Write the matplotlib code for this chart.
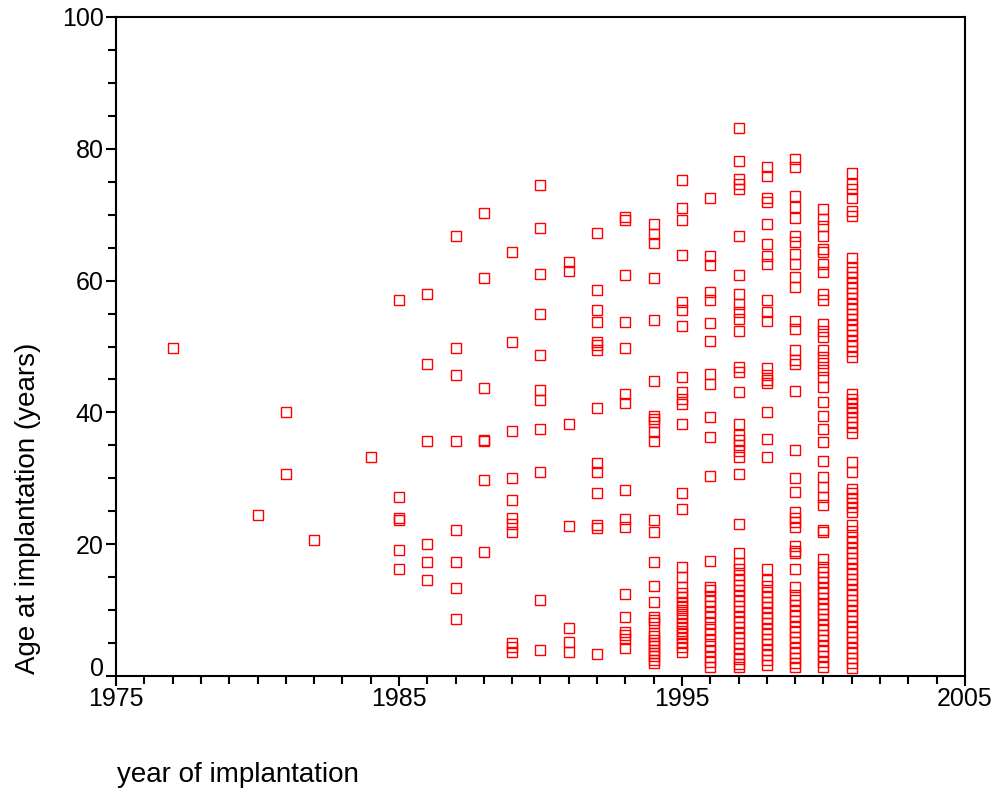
import matplotlib
matplotlib.use('Agg')
import matplotlib.pyplot as plt
from matplotlib.ticker import MultipleLocator, FixedLocator
from matplotlib.transforms import ScaledTranslation

plt.rcParams['font.family'] = ['Liberation Sans', 'DejaVu Sans']

# Edades al implante, una lista por año
age_1977 = [49.8]
age_1980 = [24.4]
age_1981 = [40.1, 30.7]
age_1982 = [20.7]
age_1984 = [33.3]
age_1985 = [57.1, 27.1, 24.0, 23.7, 19.1, 16.2]
age_1986 = [58.0, 47.4, 35.6, 20.1, 17.3, 14.5]
age_1987 = [66.7, 49.8, 45.6, 35.6, 22.1, 17.3, 13.4, 8.6]
age_1988 = [70.3, 60.4, 43.7, 35.8, 35.6, 29.7, 18.8]
age_1989 = [64.4, 50.7, 37.2, 30.0, 26.7, 24.0, 23.1, 21.8, 5.0, 4.4, 3.7]
age_1990 = [74.5, 68.0, 61.0, 55.0, 48.7, 43.4, 41.9, 37.5, 31.0, 11.5, 3.9]
age_1991 = [62.8, 61.5, 38.3, 22.7, 7.3, 5.2, 3.6]
age_1992 = [67.2, 58.6, 55.6, 53.7, 50.7, 50.2, 49.4, 40.6, 32.3, 31.0, 27.7,
            22.9, 22.4, 3.3]
age_1993 = [69.6, 69.2, 60.8, 53.7, 49.8, 42.8, 41.4, 28.3, 23.9, 22.6, 12.5,
            8.9, 6.7, 6.2, 5.6, 4.2]
age_1994 = [68.6, 67.1, 65.7, 60.4, 54.0, 44.8, 39.5, 39.0, 38.5, 37.0, 35.6,
            23.7, 21.8, 17.3, 13.7, 11.2, 9.0, 8.5, 8.0, 6.5, 6.0, 5.5, 5.0,
            4.5, 4.0, 3.5, 3.0, 2.5, 2.0]
age_1995 = [75.2, 71.0, 69.2, 63.9, 56.7, 55.6, 53.1, 45.3, 43.1, 42.1, 41.3,
            38.3, 27.7, 25.3, 16.6, 15.0, 13.5, 12.6, 12.0, 11.3, 10.6, 10.0,
            9.4, 8.8, 8.1, 7.5, 6.9, 6.3, 5.7, 5.0, 4.4, 3.7]
age_1996 = [72.5, 63.8, 62.3, 58.2, 57.0, 53.5, 50.8, 45.9, 44.3, 39.3, 36.3,
            30.3, 17.4, 13.5, 13.0, 12.2, 11.4, 10.6, 9.7, 8.9, 8.0, 7.2, 6.3,
            5.5, 4.6, 3.8, 2.9, 2.1, 1.4]
age_1997 = [83.2, 78.2, 75.4, 74.6, 73.9, 66.7, 60.8, 58.0, 56.5, 55.2, 54.2,
            52.4, 46.9, 46.1, 43.1, 38.3, 36.5, 35.8, 35.0, 34.1, 33.2, 30.7,
            23.1, 18.6, 17.1, 16.2, 15.4, 14.6, 13.8, 13.0, 12.2, 11.4, 10.6,
            9.8, 9.0, 8.2, 7.4, 6.6, 5.8, 5.0, 4.2, 3.4, 2.6, 1.8, 1.4]
age_1998 = [77.2, 75.8, 72.6, 71.9, 68.6, 65.6, 63.8, 62.5, 57.1, 55.2, 53.9,
            46.7, 45.6, 44.9, 44.4, 40.0, 35.9, 33.2, 16.2, 14.5, 13.6, 12.8,
            12.0, 11.2, 10.4, 9.6, 8.8, 8.0, 7.2, 6.4, 5.6, 4.8, 4.0, 3.2, 2.4,
            1.6]
age_1999 = [78.4, 77.2, 72.9, 71.2, 69.5, 66.8, 65.8, 64.0, 62.5, 60.5, 59.0,
            53.9, 52.7, 49.5, 47.9, 47.4, 43.3, 34.3, 30.0, 27.9, 24.9, 24.0,
            23.4, 22.6, 19.8, 19.0, 18.6, 16.3, 13.5, 12.3, 11.5, 10.7, 9.9,
            9.1, 8.3, 7.5, 6.7, 5.9, 5.1, 4.3, 3.5, 2.7, 1.9, 1.4]
age_2000 = [70.9, 69.3, 68.3, 66.7, 64.8, 64.3, 62.5, 61.3, 58.0, 57.0, 53.4,
            52.4, 51.4, 49.4, 48.4, 47.5, 46.4, 45.4, 43.8, 41.6, 39.5, 37.5,
            35.5, 32.6, 30.2, 28.7, 27.2, 25.9, 22.1, 21.8, 17.8, 16.6, 15.8,
            15.0, 14.2, 13.4, 12.6, 11.8, 11.0, 10.2, 9.4, 8.6, 7.8, 7.0, 6.2,
            5.4, 4.6, 3.8, 3.0, 2.2, 1.4]
age_2001 = [76.3, 74.6, 73.9, 72.6, 70.6, 69.8, 63.5, 62.0, 61.3, 60.5, 59.7,
            58.9, 58.1, 57.3, 56.5, 55.7, 54.9, 54.1, 53.3, 52.5, 51.7, 50.9,
            50.1, 49.3, 48.4, 42.8, 42.1, 41.4, 40.7, 40.0, 39.3, 38.6, 37.8,
            36.8, 32.5, 31.0, 28.4, 27.7, 27.0, 26.3, 25.6, 24.9, 22.9, 22.0,
            21.1, 20.3, 19.5, 18.7, 17.9, 17.1, 16.3, 15.5, 14.7, 13.9, 13.0,
            12.3, 11.5, 10.7, 9.9, 9.1, 8.3, 7.5, 6.7, 5.9, 5.1, 4.3, 3.5, 2.7,
            1.9, 1.2]

years = [1977, 1980, 1981, 1982, 1984, 1985, 1986, 1987, 1988, 1989, 1990,
         1991, 1992, 1993, 1994, 1995, 1996, 1997, 1998, 1999, 2000, 2001]
ages = [age_1977, age_1980, age_1981, age_1982, age_1984, age_1985, age_1986,
        age_1987, age_1988, age_1989, age_1990, age_1991, age_1992, age_1993,
        age_1994, age_1995, age_1996, age_1997, age_1998, age_1999, age_2000,
        age_2001]

x_ticks = [1975, 1985, 1995, 2005]
y_ticks = [0, 20, 40, 60, 80, 100]

# Aplanar en x / y
xs = []
ys = []
for yr, vals in zip(years, ages):
    xs += [yr] * len(vals)
    ys += vals

fig = plt.figure(figsize=(9.95, 7.94), dpi=100)
ax = fig.add_axes([0.1166, 0.1486, 0.8532, 0.83])

ax.plot(xs, ys, linestyle='none', marker='s', markersize=7,
        markerfacecolor='none', markeredgecolor='#ff0000', markeredgewidth=1.0)

ax.set_xlim(1975, 2005)
ax.set_ylim(0, 100)
ax.xaxis.set_major_locator(FixedLocator(x_ticks))
ax.xaxis.set_minor_locator(MultipleLocator(1))
ax.yaxis.set_major_locator(FixedLocator(y_ticks))
ax.yaxis.set_minor_locator(MultipleLocator(5))

for s in ax.spines.values():
    s.set_linewidth(1.5)
ax.tick_params(which='both', direction='out', width=1.5, labelsize=18, color='black')
ax.tick_params(which='major', length=7)
ax.tick_params(which='minor', length=6)
ax.tick_params(axis='x', which='major', pad=1)
ax.tick_params(axis='y', which='major', pad=2)

# Etiquetas de ejes
fig.text(117 / 995, 1 - 775 / 794, 'year of implantation', fontsize=20,
         ha='left', va='center')
fig.text(28 / 995, 1 - 508 / 794, 'Age at implantation (years)', fontsize=20,
         ha='center', va='center', rotation=90)

# El "0" del eje y va un poco más arriba
fig.canvas.draw()
lbl = ax.yaxis.get_majorticklabels()[0]
lbl.set_transform(lbl.get_transform() + ScaledTranslation(0, 0.1, fig.dpi_scale_trans))

fig.savefig('out.png', dpi=100)
